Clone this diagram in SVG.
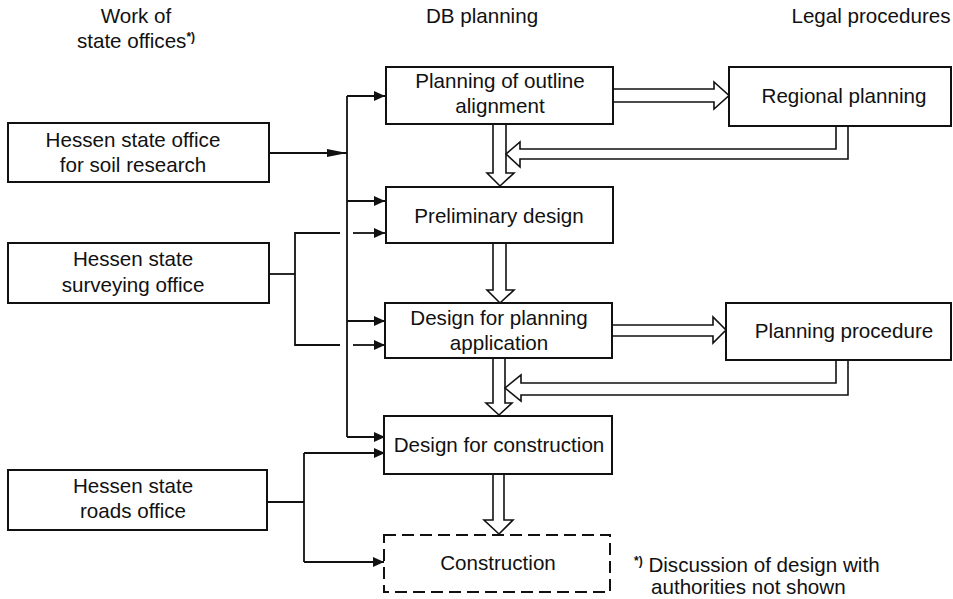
<svg xmlns="http://www.w3.org/2000/svg" width="953" height="599" viewBox="0 0 953 599">
  <style>
    text { font-family: "Liberation Sans", Arial, Helvetica, sans-serif; font-size: 20.6px; fill: #111; text-anchor: middle; }
    .box { fill: #fff; stroke: #111; stroke-width: 2; }
    .dash { fill: #fff; stroke: #111; stroke-width: 2; stroke-dasharray: 12 6; }
    .line { fill: none; stroke: #111; stroke-width: 1.8; }
    .hollow { fill: #fff; stroke: #111; stroke-width: 1.6; stroke-linejoin: miter; }
    .sup { font-size: 12px; font-weight: bold; }
    .note { text-anchor: start; }
  </style>
  <defs>
    <marker id="head" markerUnits="userSpaceOnUse" markerWidth="11" markerHeight="10" refX="11" refY="5" orient="auto">
      <path d="M0,0 L11,5 L0,10 Z" fill="#111"/>
    </marker>
    <marker id="longhead" markerUnits="userSpaceOnUse" markerWidth="20" markerHeight="8" refX="20" refY="4" orient="auto">
      <path d="M0,0 L20,4 L0,8 Z" fill="#111"/>
    </marker>
  </defs>

  <!-- column headings -->
  <g id="headings">
    <text x="136" y="23">Work of</text>
    <text x="136" y="48">state offices<tspan class="sup" dy="-7">*)</tspan></text>
    <text x="482" y="23">DB planning</text>
    <text x="871" y="23">Legal procedures</text>
  </g>

  <!-- thin connectors from the state offices -->
  <g id="connectors">
    <path class="line" d="M269,153 H347" marker-end="url(#longhead)"/>
    <path class="line" d="M347,96 V437"/>
    <path class="line" d="M347,96 H385" marker-end="url(#head)"/>
    <path class="line" d="M347,201 H385" marker-end="url(#head)"/>
    <path class="line" d="M347,321 H385" marker-end="url(#head)"/>
    <path class="line" d="M347,437 H385" marker-end="url(#head)"/>

    <path class="line" d="M269,274 H295"/>
    <path class="line" d="M340,233 H295 V345 H340"/>
    <path class="line" d="M353,233 H385" marker-end="url(#head)"/>
    <path class="line" d="M353,345 H385" marker-end="url(#head)"/>

    <path class="line" d="M267,502 H304"/>
    <path class="line" d="M304,453 V562"/>
    <path class="line" d="M304,453 H385" marker-end="url(#head)"/>
    <path class="line" d="M304,562 H384" marker-end="url(#head)"/>

    <!-- hollow flow arrows -->
    <path class="hollow" d="M613,89 H714 V82 L729,95.5 L714,109 V102 H613"/>
    <path class="hollow" d="M493,124 V173 H487 L500,186 L514,173 H506 V124"/>
    <path class="hollow" d="M836,126 V149 H520 V142 L506,154 L520,167 V159 H848 V126"/>
    <path class="hollow" d="M493,243 V290 H487 L500,303 L514,290 H506 V243"/>
    <path class="hollow" d="M612,325 H713 V317 L726,330 L713,343 V336 H612"/>
    <path class="hollow" d="M493,358 V403 H486 L499,415 L512,403 H505 V358"/>
    <path class="hollow" d="M836,360 V383 H521 V375 L505,388 L521,401 V395 H848 V360"/>
    <path class="hollow" d="M493,474 V520 H484 L499,534 L513,520 H504 V474"/>
  </g>

  <!-- state offices -->
  <g id="soil-office">
    <rect class="box" x="8" y="123" width="261" height="59"/>
    <text x="133" y="147">Hessen state office</text>
    <text x="133" y="172">for soil research</text>
  </g>
  <g id="survey-office">
    <rect class="box" x="8" y="243" width="261" height="60"/>
    <text x="133" y="266">Hessen state</text>
    <text x="133" y="292">surveying office</text>
  </g>
  <g id="roads-office">
    <rect class="box" x="8" y="470" width="259" height="60"/>
    <text x="133" y="493">Hessen state</text>
    <text x="133" y="518">roads office</text>
  </g>

  <!-- DB planning stages -->
  <g id="outline-alignment">
    <rect class="box" x="386" y="67" width="227" height="57"/>
    <text x="500" y="88">Planning of outline</text>
    <text x="500" y="113">alignment</text>
  </g>
  <g id="preliminary-design">
    <rect class="box" x="386" y="187" width="227" height="56"/>
    <text x="499" y="223">Preliminary design</text>
  </g>
  <g id="planning-application">
    <rect class="box" x="385" y="303" width="227" height="55"/>
    <text x="499" y="325">Design for planning</text>
    <text x="499" y="350">application</text>
  </g>
  <g id="construction-design">
    <rect class="box" x="384" y="416" width="228" height="58"/>
    <text x="499" y="452">Design for construction</text>
  </g>
  <g id="construction">
    <rect class="dash" x="384" y="535" width="226" height="57"/>
    <text x="498" y="570">Construction</text>
  </g>

  <!-- legal procedures -->
  <g id="regional-planning">
    <rect class="box" x="729" y="67" width="222" height="59"/>
    <text x="844" y="103">Regional planning</text>
  </g>
  <g id="planning-procedure">
    <rect class="box" x="726" y="303" width="225" height="57"/>
    <text x="844" y="338">Planning procedure</text>
  </g>

  <!-- footnote -->
  <g id="footnote">
    <text class="note" x="634" y="572"><tspan class="sup" dy="-7">*)</tspan><tspan dy="7"> Discussion of design with</tspan></text>
    <text class="note" x="651" y="594">authorities not shown</text>
  </g>
</svg>
